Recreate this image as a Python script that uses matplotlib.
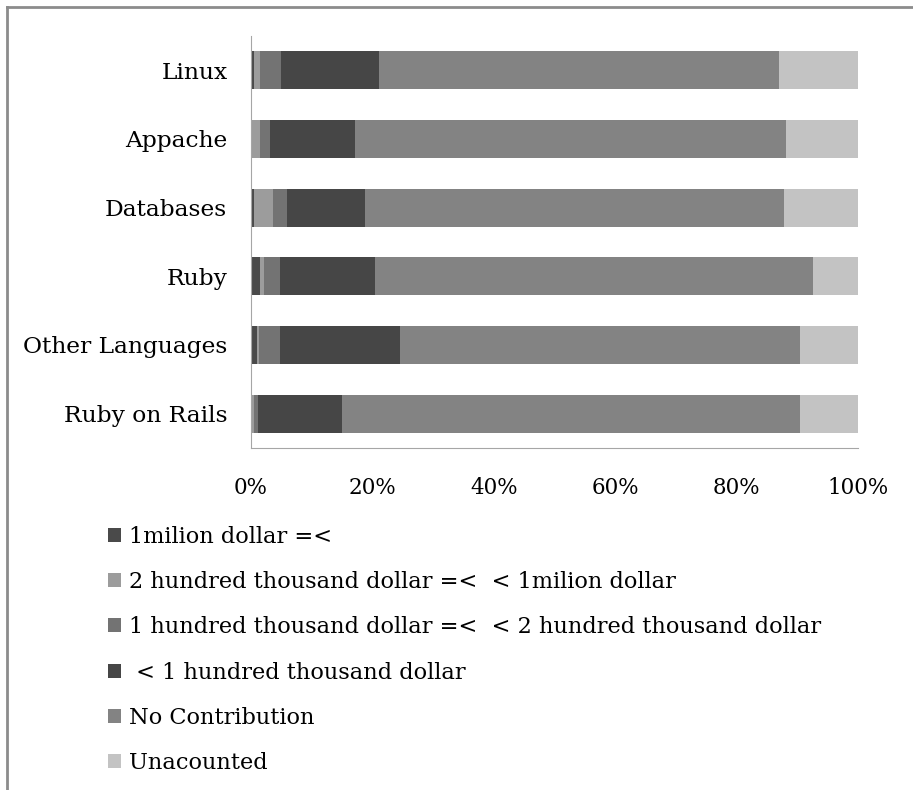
import matplotlib.pyplot as plt
from matplotlib.lines import Line2D
import numpy as np

categories = ["Linux", "Appache", "Databases", "Ruby", "Other Languages", "Ruby on Rails"]

# share of projects per contribution band, in percent
million = [0.5, 0.0, 0.5, 1.5, 1.0, 0.0]
two_hundred_k = [1.0, 1.5, 3.2, 0.6, 0.4, 0.5]
one_hundred_k = [3.4, 1.6, 2.2, 2.6, 3.3, 0.6]
under_100k = [16.2, 14.0, 12.8, 15.7, 19.8, 13.9]
no_contrib = [65.9, 71.1, 69.1, 72.2, 65.9, 75.4]
unaccounted = [13.0, 11.8, 12.2, 7.4, 9.6, 9.6]

series_labels = [
    "1milion dollar =<",
    "2 hundred thousand dollar =<  < 1milion dollar",
    "1 hundred thousand dollar =<  < 2 hundred thousand dollar",
    " < 1 hundred thousand dollar",
    "No Contribution",
    "Unacounted",
]
series = [million, two_hundred_k, one_hundred_k, under_100k, no_contrib, unaccounted]
colors = ["#4a4a4a", "#9c9c9c", "#737373", "#464646", "#838383", "#c3c3c3"]

xticks = [0, 20, 40, 60, 80, 100]

plt.rcParams["font.family"] = ["DejaVu Serif"]

fig = plt.figure(figsize=(9.13, 7.90), dpi=100)
ax = fig.add_axes([251 / 913, 1 - 448 / 790, 607 / 913, 412 / 790])

y = np.arange(len(categories))
left = np.zeros(len(categories))
handles = []
for vals, lab, c in zip(series, series_labels, colors):
    b = ax.barh(y, vals, left=left, height=0.55, color=c, label=lab)
    handles.append(b)
    left += np.array(vals)

ax.set_ylim(len(categories) - 0.5, -0.5)
ax.set_xlim(0, 100)
ax.set_yticks(y)
ax.set_yticklabels(categories, fontsize=16.8)
ax.set_xticks(xticks)
ax.set_xticklabels([f"{v}%" for v in xticks], fontsize=15.5)
ax.tick_params(axis="y", length=0, pad=17)
ax.tick_params(axis="x", length=0, pad=21)

for s in ["top", "right"]:
    ax.spines[s].set_visible(False)
ax.spines["left"].set_color("#a6a6a6")
ax.spines["bottom"].set_color("#a6a6a6")

fig.legend(handles, series_labels, loc="upper left",
           bbox_to_anchor=(108 / 913, 1 - 526 / 790),
           frameon=False, fontsize=16.2, handlelength=0.59, handleheight=0.59,
           handletextpad=0.36, labelspacing=1.03, borderpad=0, borderaxespad=0)

# outer frame (top and left only)
fig.add_artist(Line2D([7 / 913, 1], [1 - 7 / 790, 1 - 7 / 790], color="#8c8c8c", lw=2))
fig.add_artist(Line2D([7 / 913, 7 / 913], [0, 1 - 7 / 790], color="#8c8c8c", lw=2))

fig.savefig("out.png", dpi=100)
